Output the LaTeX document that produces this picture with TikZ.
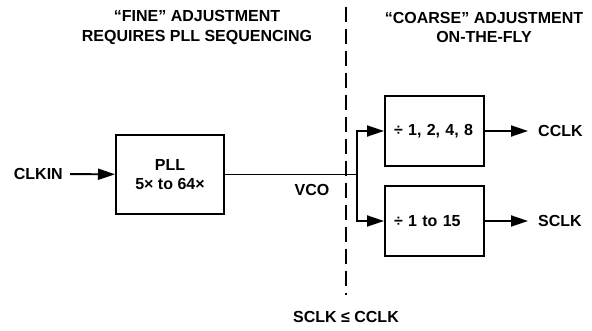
\documentclass[tikz,border=0pt]{standalone}
\usepackage{fontspec}
\setmainfont{Liberation Sans}
\usepackage{tikz}
\usetikzlibrary{shapes,arrows.meta,positioning}
\tikzstyle{arrow} = [line width=1.9pt,-{Triangle[length=17pt,width=11pt]}]
\tikzstyle{block} = [rectangle, draw=black, line width=2pt, align=center]
\tikzstyle{divider} = [block, minimum height=70pt, text width=81pt, inner xsep=9pt, align=left]
\tikzstyle{lbl} = [inner sep=0pt]

\begin{document}
\begin{tikzpicture}[x=1pt, y=-1pt, font=\bfseries\fontsize{16}{19.5}\selectfont]
        \useasboundingbox (0,0) rectangle (592,331);

        % headings either side of the split
        \node (fine) [align=center] at (197,27.5) {“FINE” ADJUSTMENT \\ REQUIRES PLL SEQUENCING};
        \node (coarse) [align=center] at (484,27.5) {“COARSE” ADJUSTMENT \\ ON-THE-FLY};

        \node (pll) [block, minimum width=108pt, minimum height=79pt] at (170,174.5) {PLL \\ 5× to 64×};
        \node (clkin) [lbl, anchor=east] at (63,174) {CLKIN};

        \node (div8) [divider] at (434.5,131) {÷ 1, 2, 4, 8};
        \node (div15) [divider, below=18pt of div8] {÷ 1 to 15};

        \node (cclk) [lbl, right=53pt of div8] {CCLK};
        \node (sclk) [lbl, right=53pt of div15] {SCLK};

        \node (vco) at (312,190) {VCO};
        \node (rule) at (346,317) {SCLK ≤ CCLK};

        \coordinate (split) at (357,174.5);
        \coordinate (dtop) at (346,7);
        \coordinate (dbot) at (346,295);

        \draw [line width=1.8pt, dash pattern=on 15pt off 7pt] (dtop) -- (dbot);

        \draw [arrow, shorten <=7pt] (clkin) -- (pll);
        \draw [line width=1.9pt] (pll.east) -- (split);
        \draw [arrow] (split) |- (div8.west);
        \draw [arrow] (split) |- (div15.west);
        \draw [arrow, shorten >=10pt] (div8) -- (cclk);
        \draw [arrow, shorten >=10pt] (div15) -- (sclk);

    \end{tikzpicture}
\end{document}
